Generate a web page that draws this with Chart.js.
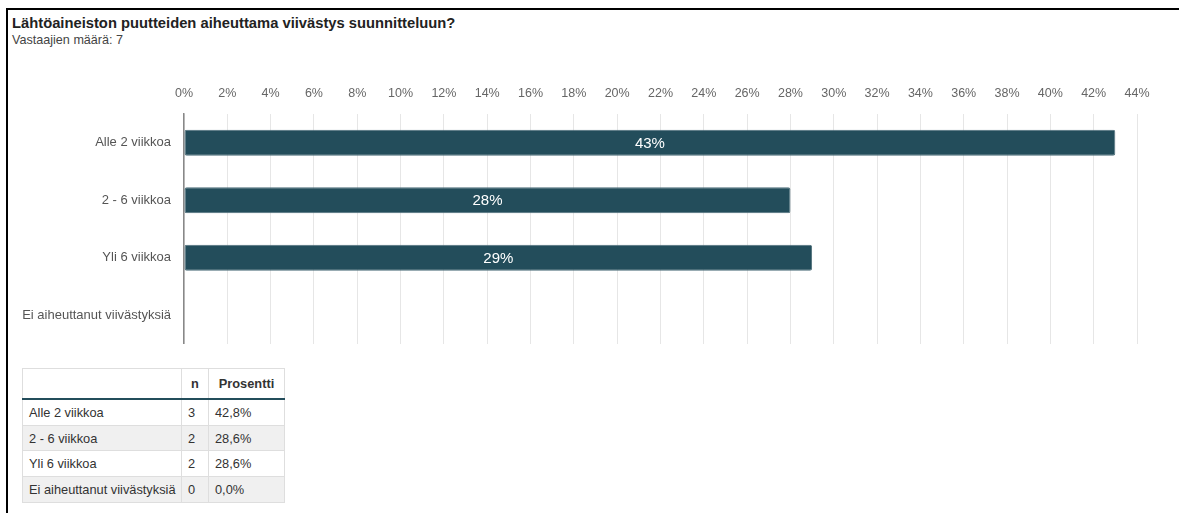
<!DOCTYPE html>
<html lang="fi">
<head>
<meta charset="utf-8">
<title>Lähtöaineiston puutteiden aiheuttama viivästys suunnitteluun?</title>
<script src="https://cdn.jsdelivr.net/npm/chart.js@4/dist/chart.umd.min.js"></script>
<style>
  html, body { margin: 0; padding: 0; background: #fff; }
  body { width: 1179px; height: 513px; overflow: hidden; position: relative;
         font-family: "Liberation Sans", Arial, sans-serif; }
  .frame { position: absolute; left: 6px; top: 8px; width: 1200px; height: 520px;
           border-left: 2px solid #000; border-top: 2px solid #000; }
  .title { position: absolute; left: 12px; top: 15px; font-size: 14.75px; font-weight: bold; color: #222; line-height: 17px; }
  .subtitle { position: absolute; left: 12px; top: 33px; font-size: 12.6px; color: #444; line-height: 15px; }
  #chart { position: absolute; left: 10px; top: 82px; }
  table.summary { position: absolute; left: 22px; top: 368px; border-collapse: collapse;
                  font-size: 12.8px; color: #333; }
  table.summary th, table.summary td { border: 1px solid #dedede; padding: 0 6px; text-align: left;
                                       white-space: nowrap; }
  table.summary th { height: 29px; font-weight: bold; color: #333; border-bottom: 2px solid #234d5b; }
  table.summary td { height: 24.7px; }
  table.summary tr.alt td { background: #f0f0f0; }
  table.summary .c1 { width: 147px; padding-right: 5px; }
  table.summary .c2 { width: 14px; }
  table.summary .c3 { width: 63px; }
  table.summary th.c2, table.summary th.c3 { text-align: center; }
</style>
</head>
<body>
<div class="frame"></div>
<div class="title">Lähtöaineiston puutteiden aiheuttama viivästys suunnitteluun?</div>
<div class="subtitle">Vastaajien määrä: 7</div>
<canvas id="chart" width="1160" height="262"></canvas>
<table class="summary" id="summary"></table>
<script>
// Answer options and results
const categories = ["Alle 2 viikkoa", "2 - 6 viikkoa", "Yli 6 viikkoa", "Ei aiheuttanut viivästyksiä"];
const counts = [3, 2, 2, 0];
const percentTable = ["42,8%", "28,6%", "28,6%", "0,0%"];
// Rounded percentages shown on the bars
const barPercents = [43, 28, 29, 0];
const axisMax = 44;
const axisStep = 2;

const barColor = "#234d5b";
const fontFamily = '"Liberation Sans", Arial, sans-serif';

// Summary table
const table = document.getElementById("summary");
let html = '<tr><th class="c1"></th><th class="c2">n</th><th class="c3">Prosentti</th></tr>';
categories.forEach((c, i) => {
  html += '<tr' + (i % 2 === 1 ? ' class="alt"' : '') + '><td class="c1">' + c +
          '</td><td class="c2">' + counts[i] + '</td><td class="c3">' + percentTable[i] + '</td></tr>';
});
table.innerHTML = html;

// Value labels drawn in the middle of each bar
const barLabels = {
  id: "barLabels",
  afterDatasetsDraw(chart) {
    const ctx = chart.ctx;
    const meta = chart.getDatasetMeta(0);
    ctx.save();
    ctx.fillStyle = "#ffffff";
    ctx.font = "15px " + fontFamily;
    ctx.textAlign = "center";
    ctx.textBaseline = "middle";
    meta.data.forEach((bar, i) => {
      const v = chart.data.datasets[0].data[i];
      if (!v) return;
      const x = (bar.base + bar.x) / 2;
      ctx.fillText(v + "%", x, bar.y + 1);
    });
    ctx.restore();
  }
};

new Chart(document.getElementById("chart"), {
  type: "bar",
  data: {
    labels: categories,
    datasets: [{
      data: barPercents,
      backgroundColor: barColor,
      borderColor: "#4d6e79",
      borderWidth: 1,
      borderRadius: 2,
      borderSkipped: false,
      barPercentage: 0.45,
      categoryPercentage: 1
    }]
  },
  options: {
    indexAxis: "y",
    responsive: false,
    animation: false,
    devicePixelRatio: 1,
    layout: { padding: { left: 0, right: 33, top: 0, bottom: 0 } },
    plugins: { legend: { display: false }, tooltip: { enabled: false } },
    scales: {
      x: {
        position: "top",
        min: 0,
        max: axisMax,
        afterFit(scale) { scale.height = 32; },
        ticks: {
          stepSize: axisStep,
          color: "#666",
          padding: 13,
          font: { family: fontFamily, size: 12.5 },
          callback: v => v + "%"
        },
        grid: { color: "#e6e6e6", drawTicks: false, lineWidth: 1 },
        border: { display: false }
      },
      y: {
        // fixed label column; the plot runs to the bottom of the canvas
        afterFit(scale) {
          scale.width = 174;
          scale.paddingTop = 0;
          scale.paddingBottom = 0;
        },
        ticks: {
          color: "#555",
          padding: 13,
          font: { family: fontFamily, size: 13 }
        },
        grid: { display: false, drawTicks: false },
        border: { display: true, color: "#888", width: 1.5 }
      }
    }
  },
  plugins: [barLabels]
});
</script>
</body>
</html>
